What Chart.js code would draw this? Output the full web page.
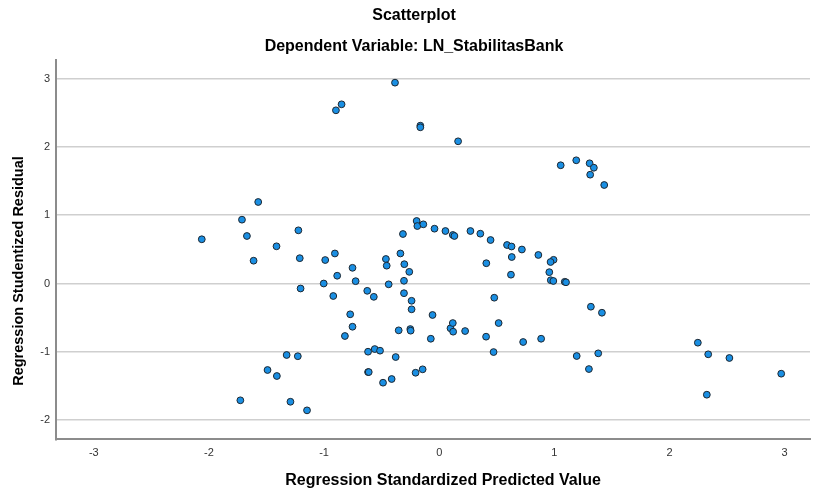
<!DOCTYPE html>
<html>
<head>
<meta charset="utf-8">
<script src="https://cdn.jsdelivr.net/npm/chart.js@4"></script>
<style>
  html, body { margin: 0; padding: 0; background: #fff; }
  #wrap { width: 815px; height: 492px; }
</style>
</head>
<body>
<div id="wrap"><canvas id="scatter-chart" width="815" height="492"></canvas></div>
<script>
"use strict";

// Regression Standardized Predicted Value (x) / Regression Studentized Residual (y)
const predicted = [
    -1.572, -1.713, -1.670, -2.062, -1.223, -0.384, -0.848, -0.897, -0.164, -0.164,
    0.164, 1.055, 1.190, 1.306, 1.343, 1.311, 1.433, -1.413, -1.612, -1.211,
    -1.204, -0.990, -0.906, -1.003, -0.886, -0.920, -0.753, -0.726, -0.625, -0.568,
    -0.463, -0.456, -0.439, -0.315, -0.337, -0.303, -0.260, -0.306, -0.306, -0.240,
    -0.196, -0.190, -0.138, -0.041, 0.054, 0.118, 0.132, 0.271, 0.357, 0.446,
    0.589, 0.628, 0.718, 0.630, 0.409, 0.623, 0.478, 0.861, 0.993, 0.967,
    0.956, 0.969, 0.991, 1.090, 1.101, 1.317, 1.413, 0.885, 1.194, 1.381,
    1.300, 2.246, 2.336, 2.520, 2.970, 2.324, -1.325, -1.228, -1.491, -1.410,
    -1.727, -1.292, -1.148, -0.240, -0.773, -0.753, -0.819, -0.352, -0.251, -0.248,
    -0.058, -0.073, 0.098, 0.118, 0.121, 0.225, 0.407, 0.516, 0.472, 0.729,
    -0.618, -0.560, -0.514, -0.378, -0.618, -0.612, -0.205, -0.144, -0.488, -0.413
];
const residual = [
    1.194, 0.935, 0.696, 0.648, 0.779, 2.942, 2.625, 2.537, 2.312, 2.288,
    2.083, 1.732, 1.805, 1.761, 1.696, 1.594, 1.443, 0.545, 0.334, 0.371,
    -0.073, 0.344, 0.440, 0.000, 0.114, -0.183, 0.230, 0.034, -0.107, -0.195,
    0.359, 0.261, -0.012, 0.725, 0.440, 0.283, 0.171, 0.040, -0.142, -0.253,
    0.916, 0.842, 0.867, 0.803, 0.769, 0.711, 0.696, 0.769, 0.730, 0.637,
    0.564, 0.542, 0.498, 0.388, 0.297, 0.129, -0.208, 0.418, 0.347, 0.315,
    0.166, 0.048, 0.037, 0.025, 0.018, -0.340, -0.428, -0.809, -1.062, -1.023,
    -1.253, -0.867, -1.037, -1.091, -1.321, -1.629, -1.047, -1.065, -1.267, -1.355,
    -1.711, -1.732, -1.858, -0.378, -0.451, -0.633, -0.769, -0.686, -0.667, -0.691,
    -0.461, -0.809, -0.656, -0.579, -0.706, -0.696, -0.779, -0.579, -1.004, -0.857,
    -0.999, -0.960, -0.984, -1.077, -1.297, -1.297, -1.307, -1.257, -1.453, -1.399
];

const chartTitle = "Scatterplot";
const chartSubtitle = "Dependent Variable: LN_StabilitasBank";
const xTitle = "Regression Standardized Predicted Value";
const yTitle = "Regression Studentized Residual";

const points = predicted.map((x, i) => ({ x: x, y: residual[i] }));

const FONT = "'Liberation Sans', Arial, sans-serif";

// 軸タイトルは元の図に合わせて少しずらして描く
const axisTitlePlugin = {
    id: "axisTitlePlugin",
    afterDraw(chart) {
        const ctx = chart.ctx;
        ctx.save();
        ctx.fillStyle = "#000";
        ctx.textAlign = "center";
        ctx.textBaseline = "middle";

        ctx.font = "bold 16px " + FONT;
        ctx.fillText(xTitle, 443, 481);

        ctx.translate(19, 271);
        ctx.rotate(-Math.PI / 2);
        ctx.font = "bold 14.5px " + FONT;
        ctx.fillText(yTitle, 0, 0);
        ctx.restore();
    },
};

new Chart(document.getElementById("scatter-chart"), {
    type: "scatter",
    data: {
        datasets: [
            {
                data: points,
                backgroundColor: "#1a8fe3",
                borderColor: "#1e2730",
                borderWidth: 1,
                pointRadius: 3.4,
            },
        ],
    },
    options: {
        responsive: false,
        animation: false,
        layout: { padding: { left: 15, right: 2, top: 0, bottom: 0 } },
        scales: {
            x: {
                type: "linear",
                min: -3.328,
                max: 3.22,
                ticks: {
                    stepSize: 1,
                    includeBounds: false,
                    padding: 7,
                    color: "#333",
                    font: { family: FONT, size: 11 },
                },
                grid: { display: false, drawTicks: false },
                border: { display: true, color: "#8c8c8c", width: 2 },
                afterFit(scale) {
                    scale.height = 52.7;
                },
            },
            y: {
                type: "linear",
                min: -2.282,
                max: 3.274,
                ticks: {
                    stepSize: 1,
                    includeBounds: false,
                    padding: 6,
                    color: "#333",
                    font: { family: FONT, size: 11 },
                },
                grid: { color: "#cfcfcf", lineWidth: 1.5, drawTicks: false },
                border: { display: true, color: "#8c8c8c", width: 2 },
                afterFit(scale) {
                    scale.width = 41;
                },
            },
        },
        plugins: {
            legend: { display: false },
            tooltip: { enabled: false },
            title: {
                display: true,
                text: chartTitle,
                color: "#000",
                font: { family: FONT, size: 16, weight: "bold" },
                padding: { top: 6.4, bottom: 0 },
            },
            subtitle: {
                display: true,
                text: chartSubtitle,
                color: "#000",
                font: { family: FONT, size: 16, weight: "bold" },
                padding: { top: 11.5, bottom: 3.7 },
            },
        },
    },
    plugins: [axisTitlePlugin],
});
</script>
</body>
</html>
